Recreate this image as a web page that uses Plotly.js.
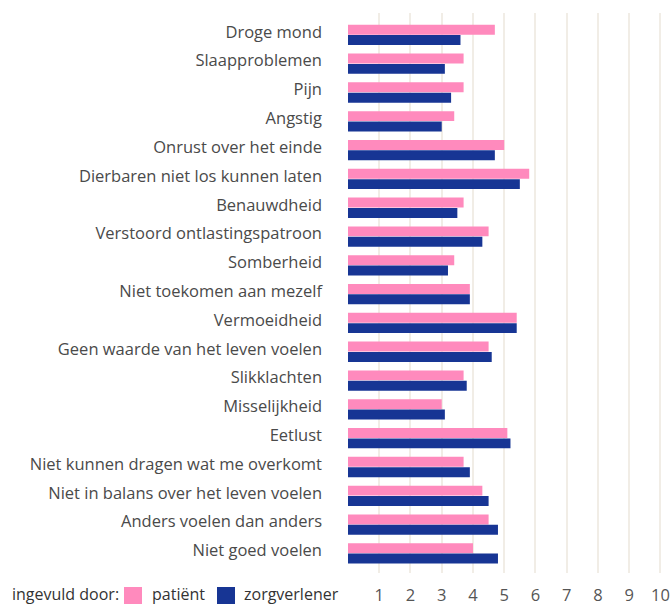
<!DOCTYPE html>
<html>
<head>
<meta charset="utf-8">
<script src="https://cdn.plot.ly/plotly-3.0.1.min.js"></script>
<style>html,body{margin:0;padding:0;background:#fff;}#chart{width:672px;height:604px;}</style>
</head>
<body>
<div id="chart"></div>
<script>
const categories = [
  "Droge mond","Slaapproblemen","Pijn","Angstig","Onrust over het einde",
  "Dierbaren niet los kunnen laten","Benauwdheid","Verstoord ontlastingspatroon",
  "Somberheid","Niet toekomen aan mezelf","Vermoeidheid",
  "Geen waarde van het leven voelen","Slikklachten","Misselijkheid","Eetlust",
  "Niet kunnen dragen wat me overkomt","Niet in balans over het leven voelen",
  "Anders voelen dan anders","Niet goed voelen"
];
const patientValues = [4.7,3.7,3.7,3.4,5.0,5.8,3.7,4.5,3.4,3.9,5.4,4.5,3.7,3.0,5.1,3.7,4.3,4.5,4.0];
const zorgverlenerValues = [3.6,3.1,3.3,3.0,4.7,5.5,3.5,4.3,3.2,3.9,5.4,4.6,3.8,3.1,5.2,3.9,4.5,4.8,4.8];
const xTickVals = [0,1,2,3,4,5,6,7,8,9,10];
const xTickText = ["","1","2","3","4","5","6","7","8","9","10"];
const seriesNames = ["patiënt","zorgverlener"];
const seriesColors = ["#ff8abd","#173594"];
const legendTitle = "ingevuld door:";

const FAM = "'Open Sans', sans-serif";
const FS = 16.5;
const LFS = 16;

const traces = [
  {type:"bar", orientation:"h", name:seriesNames[0], y:categories, x:patientValues,
   marker:{color:seriesColors[0]}},
  {type:"bar", orientation:"h", name:seriesNames[1], y:categories, x:zorgverlenerValues,
   marker:{color:seriesColors[1]}}
];

// custom legend placed in pixels relative to the plot's bottom-left corner
const legendFont = {family:FAM, size:LFS, color:"#333"};
const legendY = -21;           // text centre, px from plot bottom
const legendTextX = [-338, -198, -106];   // title, series 1, series 2 (px from plot left)
const legendSwatchX = [-224, -131];       // swatch left edges
const annotations = [
  {xref:"paper", yref:"paper", x:0, y:0, xanchor:"left", yanchor:"middle", showarrow:false,
   xshift:legendTextX[0], yshift:legendY, text:legendTitle, font:legendFont},
  {xref:"paper", yref:"paper", x:0, y:0, xanchor:"left", yanchor:"middle", showarrow:false,
   xshift:legendTextX[1], yshift:legendY, text:seriesNames[0], font:legendFont},
  {xref:"paper", yref:"paper", x:0, y:0, xanchor:"left", yanchor:"middle", showarrow:false,
   xshift:legendTextX[2], yshift:legendY, text:seriesNames[1], font:legendFont}
];
const shapes = legendSwatchX.map((sx, i) => ({
  type:"rect", xref:"paper", yref:"paper", xsizemode:"pixel", ysizemode:"pixel",
  xanchor:0, yanchor:0, x0:sx, x1:sx+18, y0:-33, y1:-14,
  fillcolor:seriesColors[i], line:{width:0}
}));

const layout = {
  width:672, height:604,
  margin:{l:348, r:10, t:13, b:31, pad:0, autoexpand:false},
  paper_bgcolor:"#fff", plot_bgcolor:"#fff",
  font:{family:FAM, size:FS, color:"#4a4a4a"},
  barmode:"group", bargap:0.28, bargroupgap:0.04,
  showlegend:false,
  xaxis:{range:[0,10.05], tickvals:xTickVals, ticktext:xTickText,
    showgrid:true, gridcolor:"#f1ede6", gridwidth:2, zeroline:false,
    showline:false, ticks:"", ticklabelstandoff:10, fixedrange:true, automargin:false,
    tickfont:{family:FAM, size:FS, color:"#555"}},
  yaxis:{type:"category", categoryorder:"array", categoryarray:categories,
    range:[18.68,-0.76], showgrid:false, zeroline:false, showline:false,
    ticks:"", ticklabelstandoff:25, ticklabelshift:3, fixedrange:true, automargin:false,
    tickfont:{family:FAM, size:FS, color:"#4a4a4a"}},
  annotations: annotations,
  shapes: shapes
};

Plotly.newPlot("chart", traces, layout, {displayModeBar:false, staticPlot:true});
</script>
</body>
</html>
